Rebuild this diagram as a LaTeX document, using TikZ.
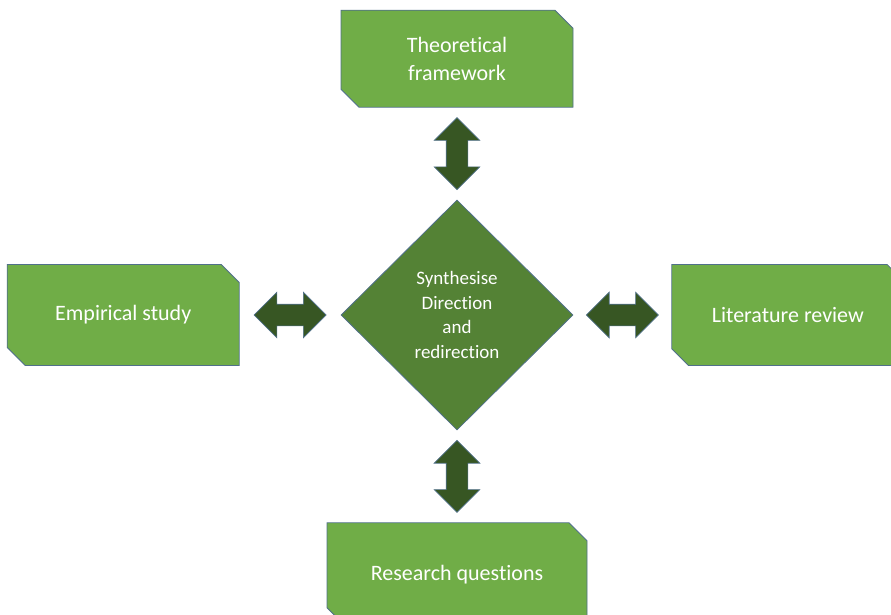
\documentclass[tikz,border=0pt]{standalone}
\usepackage{fontspec}
\setmainfont{Carlito}[Ligatures=NoCommon]
\usepackage{xcolor}
\usetikzlibrary{positioning,calc,shapes.geometric,shapes.misc,shapes.arrows}

\definecolor{stagegreen}{HTML}{70AD47}
\definecolor{hubgreen}{HTML}{548235}
\definecolor{linkgreen}{HTML}{375623}
\definecolor{rimblue}{HTML}{50708A}

\begin{document}
\begin{tikzpicture}[x=1pt,y=-1pt,
    stage/.style={chamfered rectangle,
      chamfered rectangle corners={north east,south west},
      chamfered rectangle xsep=9pt, chamfered rectangle ysep=9pt,
      draw=rimblue, line width=0.8pt, fill=stagegreen, text=white,
      minimum width=232, minimum height=101, inner sep=0pt, align=center,
      font=\fontsize{22}{28}\selectfont},
    hub/.style={diamond, draw=rimblue, line width=0.8pt, fill=hubgreen,
      text=white, minimum width=232, minimum height=230, inner sep=0pt,
      align=center, font=\fontsize{19}{24.5}\selectfont},
    link/.style={double arrow, double arrow head extend=12pt,
      draw=rimblue, line width=0.6pt, fill=linkgreen,
      minimum height=72, minimum width=45, inner xsep=0pt, inner ysep=10.5pt}]
  \useasboundingbox (0,0) rectangle (891,614);

  \node[hub] (synth) at (457,315) {Synthesise\\Direction\\and\\redirection};

  \node[stage, above=92pt of synth, minimum height=97] (theory) {Theoretical\\framework};
  \node[stage, left=101pt of synth] (empirical) {Empirical study};
  \node[stage, right=98pt of synth] (literature) {Literature review};
  \node[stage, below=92pt of synth, minimum width=260, minimum height=103] (questions) {Research questions};

  % block arrows halfway between the boxes and the diamond
  \node[link, rotate=90] (up) at ($(theory.south)!0.5!(synth.north)$) {};
  \node[link, rotate=90] (down) at ($(synth.south)!0.5!(questions.north)$) {};
  \node[link] (west) at ($(empirical.east)!0.5!(synth.west)$) {};
  \node[link] (east) at ($(synth.east)!0.5!(literature.west)$) {};
\end{tikzpicture}
\end{document}
